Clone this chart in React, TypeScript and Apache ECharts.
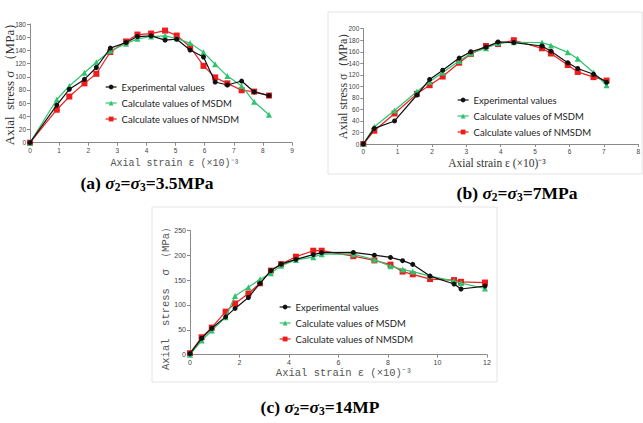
import React, { useEffect, useRef } from "react";
import * as echarts from "echarts";

const seriesNames = ["Experimental values", "Calculate values of MSDM", "Calculate values of NMSDM"];

// Panel (a) σ2=σ3=3.5MPa
const strainA = [0, 0.92, 1.35, 1.87, 2.28, 2.76, 3.3, 3.69, 4.16, 4.64, 5.04, 5.5, 5.96, 6.36, 6.78, 7.27, 7.7, 8.21];
const expA = [0, 57, 81, 96, 114, 143.5, 152, 161, 162, 155.5, 157, 140.5, 130, 92, 87.5, 93.5, 77, 71.5];
const msdmA = [0, 65.5, 86, 106, 122, 139.5, 150, 157.5, 161, 162, 158, 151, 137, 119, 101, 86, 62, 42.5];
const nmsdmA = [0, 50, 70, 90, 104.5, 137.5, 153.5, 164, 165.5, 170, 162.5, 145.5, 116.5, 99, 90, 79.5, 77.5, 71.5];

// Panel (b) σ2=σ3=7MPa
const strainB = [0, 0.32, 0.91, 1.56, 1.93, 2.31, 2.79, 3.13, 3.57, 3.92, 4.38, 5.2, 5.46, 5.95, 6.24, 6.7, 7.08];
const expB = [0, 27, 40, 85, 112, 128, 149, 160, 168, 177, 176, 170, 161, 141, 131, 121, 107];
const msdmB = [0, 30, 58, 91, 108, 124, 144, 157, 166, 175, 176.5, 176, 171, 159, 148, 124, 102];
const nmsdmB = [0, 23, 53, 87, 102, 117, 141, 156, 170, 173.5, 180, 166, 157, 137, 125, 116, 110];

// Panel (c) σ2=σ3=14MPa
const strainC = [0, 0.47, 0.88, 1.44, 1.82, 2.36, 2.83, 3.27, 3.68, 4.28, 4.98, 5.32, 6.6, 7.45, 8.1, 8.59, 9.0, 9.7, 10.67, 10.95, 11.92];
const expC = [2, 33, 53, 76, 93, 115, 143.5, 169, 182, 191.5, 201, 205, 205.5, 200, 195.5, 189, 181.5, 158, 142, 132, 138];
const msdmC = [0, 28.5, 48.5, 75.5, 118, 135.5, 151.5, 163.5, 179, 190.5, 196, 202, 202, 191, 178, 171, 167, 158, 148, 144, 133];
const nmsdmC = [3, 35, 54.5, 86.5, 103, 123, 143.5, 169, 182, 197, 209, 209, 198, 189.5, 181, 167, 161.5, 152, 150, 146.5, 145];

const colors = ["#111111", "#2ec46e", "#ee1c1c"];
const symbols = ["circle", "triangle", "rect"];
const symbolSizes = [5, 6, 6];

const zip = (xs: number[], ys: number[]) => xs.map((x, i) => [x, ys[i]]);

export default function App() {
  const ref = useRef<HTMLDivElement>(null);
  useEffect(() => {
    if (!ref.current) return;
    const chart = echarts.init(ref.current, null, { renderer: "svg" });
    const panels = [
      { xs: strainA, ys: [expA, msdmA, nmsdmA] },
      { xs: strainB, ys: [expB, msdmB, nmsdmB] },
      { xs: strainC, ys: [expC, msdmC, nmsdmC] },
    ];
    const series: any[] = [];
    panels.forEach((p, pi) => {
      p.ys.forEach((ys, si) => {
        series.push({
          type: "line",
          name: seriesNames[si],
          xAxisIndex: pi,
          yAxisIndex: pi,
          data: zip(p.xs, ys),
          symbol: symbols[si],
          symbolSize: symbolSizes[si],
          showAllSymbol: true,
          lineStyle: { color: colors[si], width: 1.2 },
          itemStyle: { color: colors[si], borderWidth: 0 },
          z: 3 - si,
        });
      });
    });
    const axisLine = { show: true, lineStyle: { color: "#8a8a8a", width: 1 } };
    const axisTick = { show: true, length: 3, lineStyle: { color: "#8a8a8a" } };
    const mkX = (gi: number, max: number, interval: number, fs: number) => ({
      type: "value", gridIndex: gi, min: 0, max, interval,
      axisLine, axisTick, splitLine: { show: false },
      axisLabel: { fontSize: fs, color: "#444", margin: 4, fontFamily: "Liberation Sans" },
    });
    const mkY = (gi: number, max: number, interval: number, fs: number) => ({
      type: "value", gridIndex: gi, min: 0, max, interval,
      axisLine, axisTick, splitLine: { show: false },
      axisLabel: { fontSize: fs, color: "#444", margin: 4, fontFamily: "Liberation Sans" },
    });
    const legendBase = {
      orient: "vertical", itemWidth: 11, itemHeight: 6, itemGap: 6, padding: 0,
      data: seriesNames,
      itemStyle: { borderWidth: 0 },
      lineStyle: { width: 1.2 },
      textStyle: { fontSize: 9.5, fontFamily: "Lato", color: "#222" },
    };
    const capRich = {
      b: { fontFamily: "Liberation Serif", fontWeight: "bold", fontSize: 17.5, color: "#000", lineHeight: 20 },
      i: { fontFamily: "Liberation Serif", fontWeight: "bold", fontStyle: "italic", fontSize: 17.5, color: "#000", lineHeight: 20 },
      s: { fontFamily: "Liberation Serif", fontWeight: "bold", fontSize: 11.5, color: "#000", verticalAlign: "bottom", lineHeight: 11 },
    };
    const caption = (x: number, y: number, label: string, val: string) => ({
      type: "text", x, y,
      style: {
        text: `{b|${label} }{i|σ}{s|2}{b|=}{i|σ}{s|3}{b|=${val}}`,
        rich: capRich, align: "center", verticalAlign: "middle",
      },
    });
    const txt = (x: number, y: number, text: string, font: any, rot = 0) => ({
      type: "text", x, y, rotation: rot,
      style: { text, align: "center", verticalAlign: "middle", ...font },
    });
    const mono = (fs: number) => ({ fontFamily: "Liberation Mono", fontSize: fs, fill: "#555" });
    const serif = (fs: number) => ({ fontFamily: "Liberation Serif", fontSize: fs, fill: "#333" });
    chart.setOption({
      animation: false,
      backgroundColor: "#ffffff",
      grid: [
        { left: 30, top: 24, width: 262, height: 118.7 },
        { left: 363.3, top: 28.7, width: 276.7, height: 115.3 },
        { left: 190, top: 230.3, width: 297, height: 124.4 },
      ],
      xAxis: [mkX(0, 9, 1, 6.5), mkX(1, 8, 1, 6.5), mkX(2, 12, 2, 7)],
      yAxis: [mkY(0, 180, 20, 6.5), mkY(1, 200, 20, 6.5), mkY(2, 250, 50, 7)],
      legend: [
        { ...legendBase, left: 105, top: 82 },
        { ...legendBase, left: 457, top: 95 },
        { ...legendBase, left: 279, top: 302 },
      ],
      series,
      graphic: [
        { type: "rect", shape: { x: 328, y: 12, width: 314, height: 162 }, style: { fill: "none", stroke: "#e4e4e4", lineWidth: 1 }, silent: true },
        { type: "rect", shape: { x: 152, y: 207, width: 345, height: 175 }, style: { fill: "none", stroke: "#e4e4e4", lineWidth: 1 }, silent: true },
        txt(175, 163, "Axial strain ε (×10)⁻³", mono(10)),
        txt(9, 81, "Axial  stress σ （MPa）", serif(13), Math.PI / 2),
        txt(497, 163, "Axial strain ε (×10)⁻³", serif(11.5)),
        txt(343, 83, "Axial stress σ（MPa）", serif(12), Math.PI / 2),
        txt(344, 373, "Axial strain ε (×10)⁻³", mono(10.5)),
        txt(166, 296, "Axial  stress  σ （MPa）", mono(10.5), Math.PI / 2),
        caption(147, 183, "(a)", "3.5MPa"),
        caption(517, 193, "(b)", "7MPa"),
        caption(320, 407, "(c)", "14MP"),
      ],
    });
    return () => chart.dispose();
  }, []);
  return (
    <div
      ref={ref}
      style={{ position: "fixed", left: 0, top: 0, width: 643, height: 423, background: "#fff" }}
    />
  );
}
